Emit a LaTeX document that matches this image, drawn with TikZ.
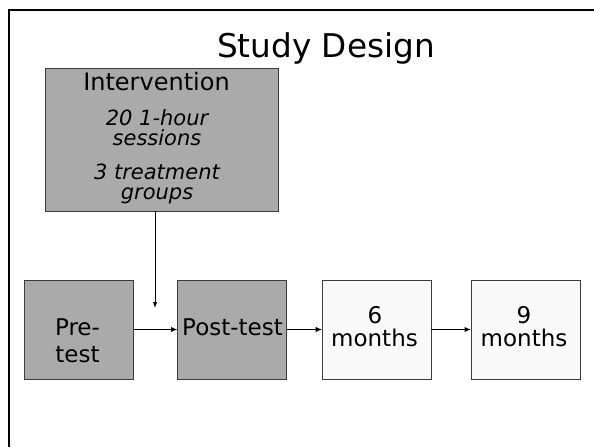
\documentclass[tikz,border=0pt]{standalone}
\usepackage{fontspec}
\setmainfont{DejaVu Sans}
\usetikzlibrary{arrows.meta}
\definecolor{boxgray}{RGB}{170,170,170}
\definecolor{boxlight}{RGB}{249,249,249}
\definecolor{edgegray}{RGB}{60,60,60}
\begin{document}
\begin{tikzpicture}[x=1pt,y=-1pt,
  box/.style={draw=edgegray, line width=1pt, inner sep=0pt, outer sep=0pt, minimum width=109pt, minimum height=99pt},
  darkbox/.style={box, fill=boxgray},
  lightbox/.style={box, fill=boxlight},
  txt/.style={anchor=base, inner sep=0pt, font=\fontsize{23}{27}\selectfont},
  itxt/.style={anchor=base, inner sep=0pt, font=\fontsize{21}{20}\selectfont\itshape},
  flow/.style={line width=1.4pt, -{Latex[length=6.5pt,width=5.5pt]}},
  frameline/.style={line width=2pt}]
\useasboundingbox (0,0) rectangle (594,447);
% slide frame
\coordinate (fa) at (9,447);
\coordinate (fb) at (9,10.3);
\coordinate (fc) at (594,10.3);
\draw[frameline] (fa) -- (fb) -- (fc);
% title
\node[anchor=base, inner sep=0pt, font=\fontsize{32.7}{36}\selectfont] (title) at (326,57) {Study Design};
% intervention box
\node[darkbox, minimum width=232.6pt, minimum height=143pt] (interv) at (162,139.5) {};
\node[txt, font=\fontsize{24}{28}\selectfont] (ititle) at (156.5,90) {Intervention};
\node[itxt] (il1) at (157,125) {20 1-hour};
\node[itxt] (il2) at (157,145) {sessions};
\node[itxt] (il3) at (157,179) {3 treatment};
\node[itxt] (il4) at (157,199) {groups};
% timeline boxes
\node[darkbox] (pre) at (79,329.5) {};
\node[darkbox] (post) at (232,329.5) {};
\node[lightbox] (six) at (376.7,329.5) {};
\node[lightbox] (nine) at (525.5,329.5) {};
\node[txt] (pre1) at (77.5,335) {Pre-};
\node[txt] (pre2) at (77.5,362) {test};
\node[txt] (post1) at (232.5,335) {Post-test};
\node[txt] (six1) at (375,323) {6};
\node[txt] (six2) at (374.5,346.7) {months};
\node[txt] (nine1) at (524,323) {9};
\node[txt] (nine2) at (524,346.7) {months};
% connectors
\draw[flow] (pre.east) -- (post.west);
\draw[flow] (post.east) -- (six.west);
\draw[flow] (six.east) -- (nine.west);
\coordinate (vtip) at (155,308);
\draw[line width=1pt, -{Latex[length=6pt,width=4.5pt]}] (interv.south -| vtip) -- (vtip);
\end{tikzpicture}
\end{document}
